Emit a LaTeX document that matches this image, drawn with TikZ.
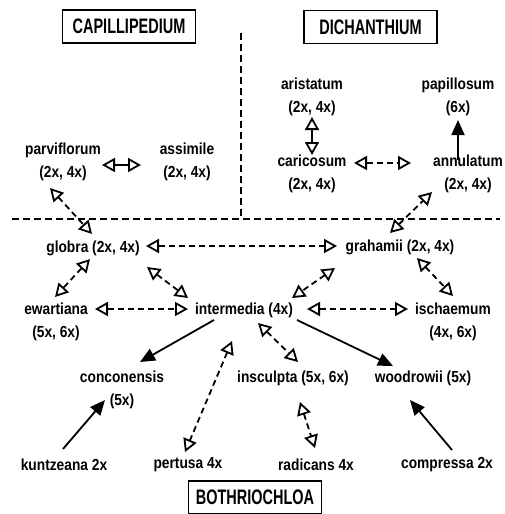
\documentclass[tikz,border=0pt]{standalone}
\usepackage{fontspec}
\setmainfont{Liberation Sans}[FakeStretch=0.86]
\newfontfamily\ttlfont{Liberation Sans}[FakeStretch=0.69]
\usetikzlibrary{arrows.meta,calc}
\begin{document}
\begin{tikzpicture}[x=1pt,y=-1pt,
 lab/.style={font=\fontsize{16}{23}\selectfont\bfseries, align=center, inner sep=0pt},
 ttl/.style={draw, line width=1.6pt, font=\ttlfont\fontsize{21}{24}\selectfont\bfseries, minimum width=133pt, minimum height=33pt, inner sep=0pt},
 oa/.style={line width=1.8pt, {Triangle[open,length=13pt,width=14pt]}-{Triangle[open,length=13pt,width=14pt]}},
 od/.style={oa, dash pattern=on 6pt off 4pt},
 fa/.style={line width=1.8pt, -{Triangle[length=15pt,width=13pt]}},
 sep/.style={line width=2pt, dash pattern=on 7pt off 4pt}]
\useasboundingbox (0,0) rectangle (505,514);
% titles
\node[ttl] (cap) at (129,26.5) {CAPILLIPEDIUM};
\node[ttl] (dich) at (370.5,27) {DICHANTHIUM};
\node[ttl] (both) at (255,497.5) {BOTHRIOCHLOA};
% separators
\draw[sep] (241,33) -- (241,219);
\draw[sep] (12,219) -- (500,219);
% labels
\node[lab] (parv) at (63,161.5) {parviflorum\\(2x, 4x)};
\node[lab] (assim) at (187,161.5) {assimile\\(2x, 4x)};
\node[lab] (arist) at (312,96.5) {aristatum\\(2x, 4x)};
\node[lab] (papil) at (458,96.5) {papillosum\\(6x)};
\node[lab] (caric) at (312,174) {caricosum\\(2x, 4x)};
\node[lab] (annul) at (468,174) {annulatum\\(2x, 4x)};
\node[lab] (globra) at (93,248) {globra (2x, 4x)};
\node[lab] (grah) at (400,247) {grahamii (2x, 4x)};
\node[lab] (ewart) at (56,321.5) {ewartiana\\(5x, 6x)};
\node[lab] (inter) at (244,310) {intermedia (4x)};
\node[lab] (ischa) at (453,321.5) {ischaemum\\(4x, 6x)};
\node[lab] (concon) at (122,390) {conconensis\\(5x)};
\node[lab] (inscul) at (293,378) {insculpta (5x, 6x)};
\node[lab] (woodr) at (423,378) {woodrowii (5x)};
\node[lab] (kuntz) at (64,465) {kuntzeana 2x};
\node[lab] (pert) at (188,465) {pertusa 4x};
\node[lab] (radic) at (316,465) {radicans 4x};
\node[lab] (compr) at (447,465) {compressa 2x};
% connectors
\draw[oa] ($(parv)+(39,3.5)$) -- ($(assim)+(-46,3.5)$);
\draw[oa] ($(arist)+(0,20.5)$) -- ($(caric)+(0,-19)$);
\draw[fa] ($(annul)+(-10,-14)$) -- ($(papil)+(0,23.5)$);
\draw[od] ($(caric)+(42,-11)$) -- ($(annul)+(-57,-11)$);
\draw[od] ($(parv)+(-13,26.5)$) -- ($(globra)+(-1,-14)$);
\draw[od] ($(grah)+(-10,-14)$) -- ($(annul)+(-36,18)$);
\draw[od] ($(globra)+(53,-2)$) -- ($(grah)+(-63,-1)$);
\draw[od] ($(globra)+(-3,11)$) -- ($(ewart)+(-1,-24.5)$);
\draw[od] ($(globra)+(54,19)$) -- ($(inter)+(-56,-12)$);
\draw[od] ($(ewart)+(39,-12.5)$) -- ($(inter)+(-56,-1)$);
\draw[od] ($(grah)+(-65,21)$) -- ($(inter)+(48,-12)$);
\draw[od] ($(grah)+(17,11)$) -- ($(ischa)+(0,-25.5)$);
\draw[od] ($(inter)+(63,-1)$) -- ($(ischa)+(-45,-12.5)$);
\draw[fa] ($(inter)+(-30,10)$) -- ($(concon)+(18,-28)$);
\draw[fa] ($(inter)+(53,10)$) -- ($(woodr)+(-30,-12)$);
\draw[od] ($(inter)+(14,13)$) -- ($(inscul)+(5,-16)$);
\draw[od] ($(inter)+(-12,31)$) -- ($(pert)+(-3,-13)$);
\draw[od] ($(inscul)+(7,24)$) -- ($(radic)+(-1,-17)$);
\draw[fa] ($(kuntz)+(-1,-16)$) -- ($(concon)+(-17,10)$);
\draw[fa] ($(compr)+(5,-15)$) -- ($(woodr)+(-13,22)$);
\end{tikzpicture}
\end{document}
